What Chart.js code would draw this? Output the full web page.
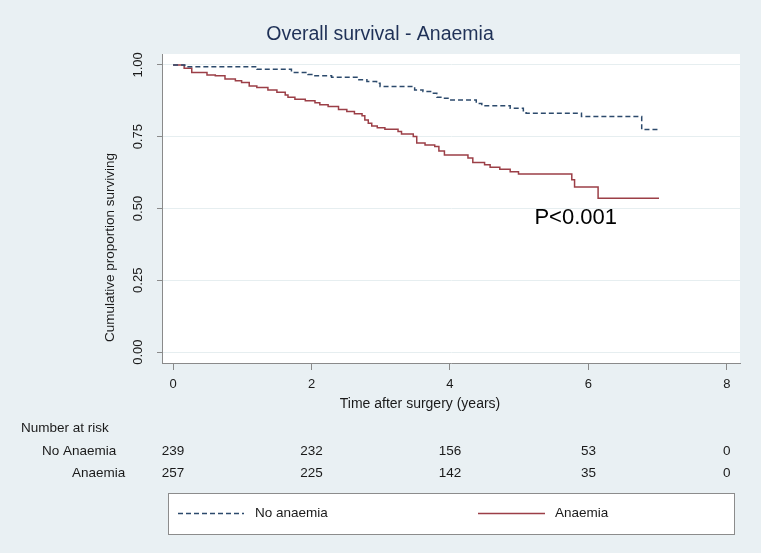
<!DOCTYPE html>
<html>
<head>
<meta charset="utf-8">
<script src="https://cdn.jsdelivr.net/npm/chart.js@4"></script>
<style>
  html, body { margin: 0; padding: 0; background: #e9f0f3; }
  canvas { display: block; }
</style>
</head>
<body>
<canvas id="kmChart" width="761" height="553"></canvas>
<script>
// Kaplan-Meier steps (time in years, survival proportion)
const noAnaemiaTime = [0, 0.17, 1.21, 1.71, 1.95, 2.02, 2.29, 2.67, 2.80, 2.94, 2.99, 3.49, 3.61, 3.74, 3.81, 3.90, 4.00, 4.38, 4.46, 4.87, 5.06, 5.10, 5.90, 6.77, 7.02];
const noAnaemiaSurv = [1.0, 0.994, 0.985, 0.974, 0.967, 0.962, 0.957, 0.948, 0.942, 0.936, 0.925, 0.913, 0.907, 0.901, 0.887, 0.884, 0.878, 0.866, 0.858, 0.849, 0.840, 0.832, 0.820, 0.775, 0.775];

const anaemiaTime = [0, 0.16, 0.27, 0.49, 0.61, 0.75, 0.90, 0.99, 1.10, 1.21, 1.37, 1.50, 1.62, 1.66, 1.76, 1.91, 2.05, 2.12, 2.24, 2.39, 2.51, 2.62, 2.73, 2.77, 2.82, 2.87, 2.95, 3.06, 3.25, 3.30, 3.47, 3.52, 3.64, 3.78, 3.84, 3.92, 4.26, 4.33, 4.50, 4.58, 4.72, 4.87, 4.99, 5.76, 5.80, 6.14, 7.02];
const anaemiaSurv = [1.0, 0.988, 0.974, 0.965, 0.962, 0.951, 0.945, 0.939, 0.927, 0.921, 0.913, 0.905, 0.895, 0.887, 0.880, 0.875, 0.868, 0.861, 0.855, 0.845, 0.838, 0.830, 0.823, 0.808, 0.797, 0.787, 0.781, 0.776, 0.768, 0.759, 0.751, 0.728, 0.721, 0.716, 0.700, 0.686, 0.676, 0.660, 0.652, 0.644, 0.637, 0.628, 0.620, 0.600, 0.575, 0.536, 0.536];

const xTicks = [0, 2, 4, 6, 8];
const yTicks = [0, 0.25, 0.5, 0.75, 1];
const yTickLabels = ['0.00', '0.25', '0.50', '0.75', '1.00'];

const riskGroups = ['No Anaemia', 'Anaemia'];
const riskNoAnaemia = [239, 232, 156, 53, 0];
const riskAnaemia = [257, 225, 142, 35, 0];

const seriesLabels = ['No anaemia', 'Anaemia'];
const pText = 'P<0.001';
const pPos = { x: 5.22, y: 0.466 };

const colors = {
  bg: '#e9f0f3',
  noAnaemia: '#2c4a6c',
  anaemia: '#9c3f47',
  axis: '#8a8a8a',
  grid: '#e6eef0',
  text: '#1a1a1a',
  title: '#1f3157',
};

const FONT = "'Liberation Sans', Arial, sans-serif";

const decor = {
  id: 'decor',
  beforeDraw(chart) {
    const { ctx, chartArea: a } = chart;
    ctx.save();
    ctx.fillStyle = colors.bg;
    ctx.fillRect(0, 0, chart.width, chart.height);
    ctx.fillStyle = '#ffffff';
    ctx.fillRect(a.left, a.top, a.right - a.left, a.bottom - a.top);
    ctx.restore();
  },
  afterDraw(chart) {
    const { ctx } = chart;
    const xs = chart.scales.x, ys = chart.scales.y;
    ctx.save();

    // title
    ctx.fillStyle = colors.title;
    ctx.font = '19.5px ' + FONT;
    ctx.textAlign = 'center';
    ctx.textBaseline = 'middle';
    ctx.fillText('Overall survival - Anaemia', 380, 35);

    // y tick labels (rotated)
    ctx.fillStyle = colors.text;
    ctx.font = '13px ' + FONT;
    yTicks.forEach((v, i) => {
      ctx.save();
      ctx.translate(138, ys.getPixelForValue(v));
      ctx.rotate(-Math.PI / 2);
      ctx.textAlign = 'center';
      ctx.textBaseline = 'middle';
      ctx.fillText(yTickLabels[i], 0, 0);
      ctx.restore();
    });

    // y title
    ctx.save();
    ctx.translate(110, 342);
    ctx.rotate(-Math.PI / 2);
    ctx.textAlign = 'left';
    ctx.textBaseline = 'middle';
    ctx.font = '13.5px ' + FONT;
    ctx.fillText('Cumulative proportion surviving', 0, 0);
    ctx.restore();

    // x tick labels
    ctx.textAlign = 'center';
    ctx.textBaseline = 'middle';
    ctx.font = '13px ' + FONT;
    xTicks.forEach(v => ctx.fillText(String(v), xs.getPixelForValue(v), 384));

    // x title
    ctx.font = '14px ' + FONT;
    ctx.fillText('Time after surgery (years)', 420, 404);

    // number at risk table
    ctx.font = '13.5px ' + FONT;
    ctx.textAlign = 'left';
    ctx.fillText('Number at risk', 21, 428);
    ctx.fillText(riskGroups[0], 42, 451);
    ctx.fillText(riskGroups[1], 72, 473);
    ctx.textAlign = 'center';
    xTicks.forEach((v, i) => {
      const px = xs.getPixelForValue(v);
      ctx.fillText(String(riskNoAnaemia[i]), px, 451);
      ctx.fillText(String(riskAnaemia[i]), px, 473);
    });

    // legend box
    ctx.fillStyle = '#ffffff';
    ctx.fillRect(168, 493, 566, 41);
    ctx.strokeStyle = '#8c8c8c';
    ctx.lineWidth = 1;
    ctx.strokeRect(168.5, 493.5, 566, 41);

    ctx.lineWidth = 1.5;
    ctx.strokeStyle = colors.noAnaemia;
    ctx.setLineDash([5, 3]);
    ctx.beginPath(); ctx.moveTo(178, 513.5); ctx.lineTo(244, 513.5); ctx.stroke();
    ctx.setLineDash([]);
    ctx.strokeStyle = colors.anaemia;
    ctx.beginPath(); ctx.moveTo(478, 513.5); ctx.lineTo(545, 513.5); ctx.stroke();

    ctx.fillStyle = colors.text;
    ctx.textAlign = 'left';
    ctx.font = '13.5px ' + FONT;
    ctx.fillText(seriesLabels[0], 255, 513);
    ctx.fillText(seriesLabels[1], 555, 513);

    // p-value annotation
    ctx.font = '22px ' + FONT;
    ctx.fillStyle = '#000000';
    ctx.fillText(pText, xs.getPixelForValue(pPos.x), ys.getPixelForValue(pPos.y));

    ctx.restore();
  }
};

const toPoints = (t, s) => t.map((v, i) => ({ x: v, y: s[i] }));

new Chart(document.getElementById('kmChart'), {
  type: 'line',
  data: {
    datasets: [
      {
        label: seriesLabels[0],
        data: toPoints(noAnaemiaTime, noAnaemiaSurv),
        borderColor: colors.noAnaemia,
        borderWidth: 1.5,
        borderDash: [5, 3],
        stepped: 'before',
        pointRadius: 0,
        fill: false,
      },
      {
        label: seriesLabels[1],
        data: toPoints(anaemiaTime, anaemiaSurv),
        borderColor: colors.anaemia,
        borderWidth: 1.5,
        stepped: 'before',
        pointRadius: 0,
        fill: false,
      }
    ]
  },
  options: {
    responsive: false,
    animation: false,
    devicePixelRatio: 1,
    layout: { padding: { left: 162, right: 21, top: 54, bottom: 190 } },
    plugins: {
      legend: { display: false },
      title: { display: false },
      tooltip: { enabled: false }
    },
    scales: {
      x: {
        type: 'linear',
        min: -0.16,
        max: 8.19,
        afterBuildTicks: s => { s.ticks = xTicks.map(v => ({ value: v })); },
        afterFit: s => { s.height = 0; },
        ticks: { display: false },
        grid: { drawOnChartArea: false, tickLength: 7, tickColor: colors.axis },
        border: { color: colors.axis, width: 1 }
      },
      y: {
        type: 'linear',
        min: -0.038,
        max: 1.038,
        afterBuildTicks: s => { s.ticks = yTicks.map(v => ({ value: v })); },
        afterFit: s => { s.width = 0; },
        ticks: { display: false },
        grid: { color: colors.grid, tickLength: 5, tickColor: colors.axis },
        border: { color: colors.axis, width: 1 }
      }
    }
  },
  plugins: [decor]
});
</script>
</body>
</html>
